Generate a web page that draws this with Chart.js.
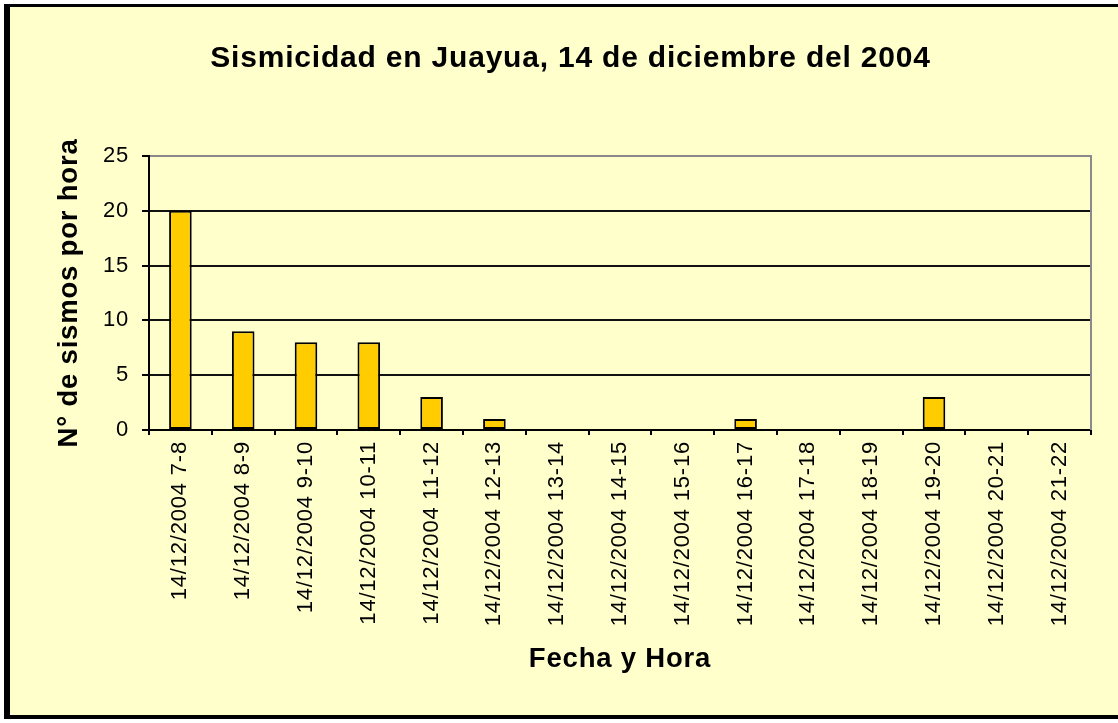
<!DOCTYPE html>
<html>
<head>
<meta charset="utf-8">
<script src="https://cdn.jsdelivr.net/npm/chart.js@4.4.1/dist/chart.umd.min.js"></script>
<style>
  html, body { margin: 0; padding: 0; background: #ffffff; }
  #frame { position: absolute; left: 4px; top: 4px; width: 1114px; height: 715px;
           box-sizing: border-box; background: #FFFFCC;
           border-left: 6px solid #000; border-top: 3px solid #000; border-bottom: 4px solid #000; }
  #wrap { position: absolute; left: 0; top: 0; width: 1118px; height: 723px; }
</style>
</head>
<body>
<div id="frame"></div>
<div id="wrap"><canvas id="c" width="1118" height="723"></canvas></div>
<script>
const chartTitle = 'Sismicidad en Juayua, 14 de diciembre del 2004';
const xTitle = 'Fecha y Hora';
const yTitle = 'N° de sismos por hora';
const categories = [
  '14/12/2004 7-8', '14/12/2004 8-9', '14/12/2004 9-10', '14/12/2004 10-11',
  '14/12/2004 11-12', '14/12/2004 12-13', '14/12/2004 13-14', '14/12/2004 14-15',
  '14/12/2004 15-16', '14/12/2004 16-17', '14/12/2004 17-18', '14/12/2004 18-19',
  '14/12/2004 19-20', '14/12/2004 20-21', '14/12/2004 21-22'
];
const sismos = [20, 9, 8, 8, 3, 1, 0, 0, 0, 1, 0, 0, 3, 0, 0];
const yTicks = [0, 5, 10, 15, 20, 25];

const FONT = '"Liberation Sans", Arial, sans-serif';

const spacing = {
  id: 'spacing',
  beforeUpdate(c) { c.ctx.letterSpacing = '0.8px'; },
  beforeLayout(c) { c.ctx.letterSpacing = '0.8px'; },
  beforeDraw(c) { c.ctx.letterSpacing = '0.8px'; }
};
const rightBorder = {
  id: 'rightBorder',
  afterDraw(c) {
    const a = c.chartArea, ctx = c.ctx;
    ctx.save();
    ctx.strokeStyle = '#8a8a8a';
    ctx.lineWidth = 2;
    ctx.beginPath();
    ctx.moveTo(Math.round(a.right), a.top - 1);
    ctx.lineTo(Math.round(a.right), a.bottom);
    ctx.stroke();
    ctx.restore();
  }
};

new Chart(document.getElementById('c'), {
  type: 'bar',
  data: {
    labels: categories,
    datasets: [{
      data: sismos,
      backgroundColor: '#FFCC00',
      borderColor: '#000000',
      borderWidth: 2,
      borderSkipped: false,
      barPercentage: 0.36,
      categoryPercentage: 1.0
    }]
  },
  options: {
    responsive: false,
    animation: false,
    layout: { padding: { left: 50, right: 27, top: 0, bottom: 50 } },
    plugins: {
      legend: { display: false },
      tooltip: { enabled: false },
      title: {
        display: true,
        text: chartTitle,
        color: '#000',
        font: { family: FONT, size: 30, weight: 'bold', lineHeight: 1 },
        padding: { top: 44, bottom: 82 }
      }
    },
    scales: {
      x: {
        afterFit(s) { s.height = 243; },
        grid: { display: true, drawOnChartArea: false, drawTicks: true, tickLength: 5,
                color: '#000', lineWidth: 2, offset: true },
        border: { display: true, color: '#000', width: 2 },
        ticks: { color: '#000', minRotation: 90, maxRotation: 90, autoSkip: false, padding: 6,
                 font: { family: FONT, size: 22, lineHeight: 1 } },
        title: { display: true, text: xTitle, color: '#000',
                 font: { family: FONT, size: 27.5, weight: 'bold', lineHeight: 1 },
                 padding: { top: 0, bottom: 0 } }
      },
      y: {
        min: 0, max: 25,
        afterFit(s) { s.width = 99; },
        afterBuildTicks(s) { s.ticks = yTicks.map(v => ({ value: v })); },
        grid: { drawTicks: true, tickLength: 7, tickColor: '#000', tickWidth: 2, lineWidth: 2,
                color: (ctx) => (ctx.tick && ctx.tick.value === 25 ? '#8a8a8a' : '#111') },
        border: { display: true, color: '#000', width: 2 },
        ticks: { color: '#000', padding: 13, font: { family: FONT, size: 22, lineHeight: 1 } },
        title: { display: true, text: yTitle, color: '#000',
                 font: { family: FONT, size: 27.5, weight: 'bold', lineHeight: 1 },
                 padding: { top: 6, bottom: 0 } }
      }
    }
  },
  plugins: [spacing, rightBorder]
});
</script>
</body>
</html>
